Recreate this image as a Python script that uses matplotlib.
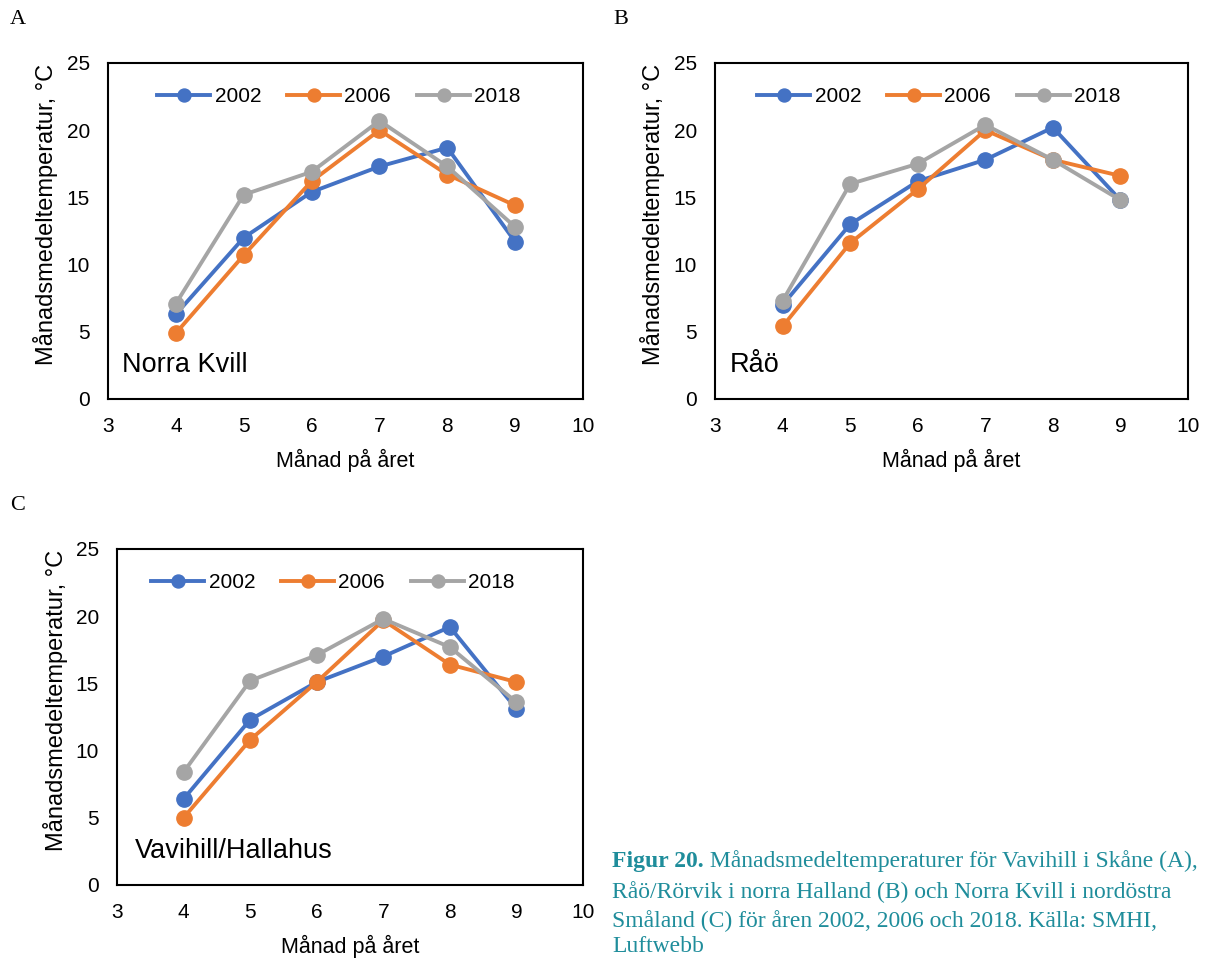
import matplotlib.pyplot as plt

months = [4, 5, 6, 7, 8, 9]
years = ["2002", "2006", "2018"]
colors = ["#4472C4", "#ED7D31", "#A5A5A5"]

# Norra Kvill (A)
kvill_2002 = [6.3, 12.0, 15.4, 17.3, 18.7, 11.7]
kvill_2006 = [4.9, 10.7, 16.2, 20.0, 16.7, 14.4]
kvill_2018 = [7.1, 15.2, 16.9, 20.7, 17.3, 12.8]

# Råö (B)
rao_2002 = [7.0, 13.0, 16.2, 17.8, 20.2, 14.8]
rao_2006 = [5.4, 11.6, 15.6, 20.0, 17.8, 16.6]
rao_2018 = [7.3, 16.0, 17.5, 20.4, 17.8, 14.8]

# Vavihill/Hallahus (C)
vavi_2002 = [6.4, 12.3, 15.1, 17.0, 19.2, 13.1]
vavi_2006 = [5.0, 10.8, 15.1, 19.7, 16.4, 15.1]
vavi_2018 = [8.4, 15.2, 17.1, 19.8, 17.7, 13.6]

W, H = 1205, 958
fig = plt.figure(figsize=(W / 100, H / 100), dpi=100)
plt.rcParams["font.family"] = ["Liberation Sans", "DejaVu Sans"]


def make_axes(left, top, right, bottom):
    return fig.add_axes([left / W, 1 - bottom / H, (right - left) / W, (bottom - top) / H])


def draw_panel(ax, series, station, leg_center_px, ax_left, ax_right, label_x):
    for vals, c, yr in zip(series, colors, years):
        ax.plot(months, vals, color=c, lw=2.8, marker="o", ms=11, label=yr)
    ax.set_xlim(3, 10)
    ax.set_ylim(0, 25)
    ax.set_xticks(range(3, 11))
    ax.set_yticks(range(0, 26, 5))
    ax.tick_params(length=0, labelsize=15, pad=13)
    for s in ax.spines.values():
        s.set_linewidth(1.5)
    ax.set_xlabel("Månad på året", fontsize=15.5, labelpad=9)
    ax.set_ylabel("Månadsmedeltemperatur, °C", fontsize=17)
    ax.yaxis.set_label_coords(-0.106, 0.548)
    ax.text(label_x, 0.10, station, transform=ax.transAxes, fontsize=19.5, va="center", ha="left")
    cx = (leg_center_px - ax_left) / (ax_right - ax_left)
    ax.legend(loc="center", bbox_to_anchor=(cx, 0.9), ncol=3, frameon=False,
              fontsize=15, handlelength=2.55, handletextpad=0.2, columnspacing=1.25,
              markerscale=0.85, borderaxespad=0)


axA = make_axes(108, 63, 583, 399)
draw_panel(axA, [kvill_2002, kvill_2006, kvill_2018], "Norra Kvill", 339, 108, 583, 0.03)

axB = make_axes(715, 63, 1188, 399)
draw_panel(axB, [rao_2002, rao_2006, rao_2018], "Råö", 939, 715, 1188, 0.032)

axC = make_axes(117, 549, 583, 885)
draw_panel(axC, [vavi_2002, vavi_2006, vavi_2018], "Vavihill/Hallahus", 333, 117, 583, 0.039)

# panel letters
for letter, x, y in [("A", 10, 20), ("B", 613, 20), ("C", 10, 506)]:
    fig.text(x / W, 1 - y / H, letter, family="Liberation Serif", fontsize=16, va="center", ha="left")

# caption
cap_color = "#1f8d9b"
cap_size = 17
cap_x = 612 / W
line_y = [861, 892, 921, 947]
bold = fig.text(cap_x, 1 - line_y[0] / H, "Figur 20.", family="Liberation Serif",
                fontsize=cap_size, weight="bold", color=cap_color, va="center")
fig.canvas.draw()
bb = bold.get_window_extent(renderer=fig.canvas.get_renderer())
fig.text(bb.x1 / W, 1 - line_y[0] / H, " Månadsmedeltemperaturer för Vavihill i Skåne (A),",
         family="Liberation Serif", fontsize=cap_size, color=cap_color, va="center")
rest = ["Råö/Rörvik i norra Halland (B) och Norra Kvill i nordöstra",
        "Småland (C) för åren 2002, 2006 och 2018. Källa: SMHI,",
        "Luftwebb"]
for txt, y in zip(rest, line_y[1:]):
    fig.text(cap_x, 1 - y / H, txt, family="Liberation Serif", fontsize=cap_size,
             color=cap_color, va="center")

fig.savefig("out.png", dpi=100)
